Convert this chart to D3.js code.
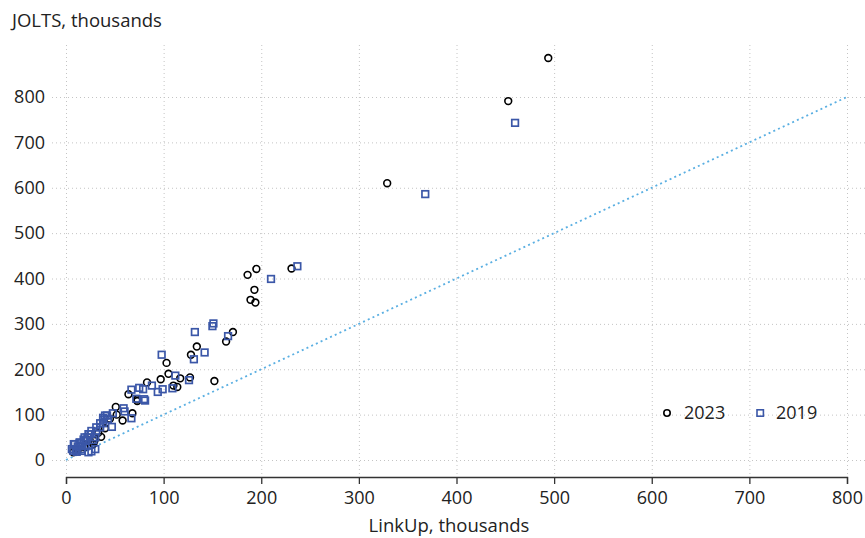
<!DOCTYPE html>
<html>
<head>
<meta charset="utf-8">
<script src="https://cdn.jsdelivr.net/npm/d3@7"></script>
<style>
  body { margin: 0; background: #fff; }
  svg text { font-family: "Open Sans", sans-serif; fill: #222; }
</style>
</head>
<body>
<svg id="chart" width="865" height="538"></svg>
<script>
// values, thousands
var x2023 = [494, 453, 329, 195, 186, 231, 193, 189, 194, 171, 164, 134, 128, 103, 105, 117, 114, 110, 127, 152, 97, 83, 64, 73, 73, 51, 68, 58, 45, 52, 36, 28, 19, 29, 7.5, 22, 14, 40, 33, 25, 12, 10];
var y2023 = [886, 791, 610, 421, 408, 422, 375, 353, 347, 282, 261, 250, 232, 214, 190, 180, 161, 164, 182, 174, 178, 171, 145, 134, 130, 117, 103, 87, 91, 100, 51, 35, 28, 42, 17, 45, 30, 70, 60, 40, 22, 25];
var x2019 = [460, 368, 237, 210, 151, 150, 132, 166, 142, 98, 131, 112, 126, 109, 99, 94, 88, 79, 75, 67, 80, 81, 72, 59, 60, 67, 48, 42, 38, 47, 38, 35, 31, 25, 26, 20, 14, 8, 7.5, 16, 12, 20, 22, 30, 10, 18,
             6, 9, 14, 19, 23, 26, 31, 35, 38, 43, 40, 23, 16, 30, 11, 28, 17];
var y2019 = [743, 586, 427, 399, 301, 295, 282, 273, 237, 232, 222, 186, 176, 158, 156, 150, 164, 156, 159, 155, 134, 131, 135, 114, 107, 92, 103, 98, 93, 73, 81, 72, 63, 57, 19, 42, 37, 35, 20, 24, 30, 30, 50, 50, 22, 45,
             24, 35, 39, 50, 57, 64, 72, 81, 89, 90, 98, 17, 20, 24, 18, 44, 32];
var xTicks = [0, 100, 200, 300, 400, 500, 600, 700, 800];
var yTicks = [0, 100, 200, 300, 400, 500, 600, 700, 800];
var legendLabels = ["2023", "2019"];

var svg = d3.select("#chart");
var blue = "#3b57a8";

var x = d3.scaleLinear().domain([0, 800]).range([66, 847]);
var y = d3.scaleLinear().domain([0, 800]).range([460, 97]);

var grid = svg.append("g").attr("stroke", "#c4c4c4").attr("stroke-width", 1).attr("stroke-dasharray", "1,3");
grid.selectAll("line.v").data(xTicks).enter().append("line")
    .attr("x1", function (d) { return x(d) + 0.5; })
    .attr("x2", function (d) { return x(d) + 0.5; })
    .attr("y1", 45).attr("y2", 477);
grid.selectAll("line.h").data(yTicks).enter().append("line")
    .attr("x1", 52).attr("x2", 865)
    .attr("y1", function (d) { return y(d) + 0.5; })
    .attr("y2", function (d) { return y(d) + 0.5; });

// x axis
var xAxis = svg.append("g")
    .attr("transform", "translate(0,477)")
    .call(d3.axisBottom(x).tickValues(xTicks).tickSize(7).tickPadding(7));
xAxis.select(".domain").attr("stroke", "#333").attr("stroke-width", 1.3);
xAxis.selectAll(".tick line").attr("stroke", "#333").attr("stroke-width", 1.3);
xAxis.selectAll(".tick text").style("font-size", "18px").attr("fill", "#222");

// y labels
svg.append("g").selectAll("text").data(yTicks).enter().append("text")
    .attr("x", 45)
    .attr("y", function (d) { return y(d); })
    .attr("dy", "0.35em")
    .attr("text-anchor", "end")
    .style("font-size", "18px")
    .text(function (d) { return d; });

// 45 degree line
svg.append("line")
    .attr("x1", x(0)).attr("y1", y(0))
    .attr("x2", x(800)).attr("y2", y(800))
    .attr("stroke", "#5aafe2").attr("stroke-width", 1.8)
    .attr("stroke-dasharray", "2,3.2");

svg.append("g").selectAll("circle").data(x2023).enter().append("circle")
    .attr("cx", function (d) { return x(d); })
    .attr("cy", function (d, i) { return y(y2023[i]); })
    .attr("r", 3.4)
    .attr("fill", "none").attr("stroke", "#000").attr("stroke-width", 1.6);

svg.append("g").selectAll("rect").data(x2019).enter().append("rect")
    .attr("x", function (d) { return x(d) - 3.3; })
    .attr("y", function (d, i) { return y(y2019[i]) - 3.3; })
    .attr("width", 6.6).attr("height", 6.6)
    .attr("fill", "none").attr("stroke", blue).attr("stroke-width", 1.7);

// legend
var lg = svg.append("g").attr("transform", "translate(0,413)");
lg.append("circle").attr("cx", 667).attr("cy", 0).attr("r", 3.2)
    .attr("fill", "none").attr("stroke", "#000").attr("stroke-width", 1.6);
lg.append("rect").attr("x", 757).attr("y", -3.2).attr("width", 6.4).attr("height", 6.4)
    .attr("fill", "none").attr("stroke", blue).attr("stroke-width", 1.6);
lg.selectAll("text").data(legendLabels).enter().append("text")
    .attr("x", function (d, i) { return i === 0 ? 684 : 776; })
    .attr("y", 0).attr("dy", "0.35em")
    .style("font-size", "18px")
    .text(function (d) { return d; });

svg.append("text").attr("x", 12).attr("y", 27).style("font-size", "18.5px").text("JOLTS, thousands");
svg.append("text").attr("x", 449).attr("y", 532).attr("text-anchor", "middle")
    .style("font-size", "18.5px").text("LinkUp, thousands");
</script>
</body>
</html>
